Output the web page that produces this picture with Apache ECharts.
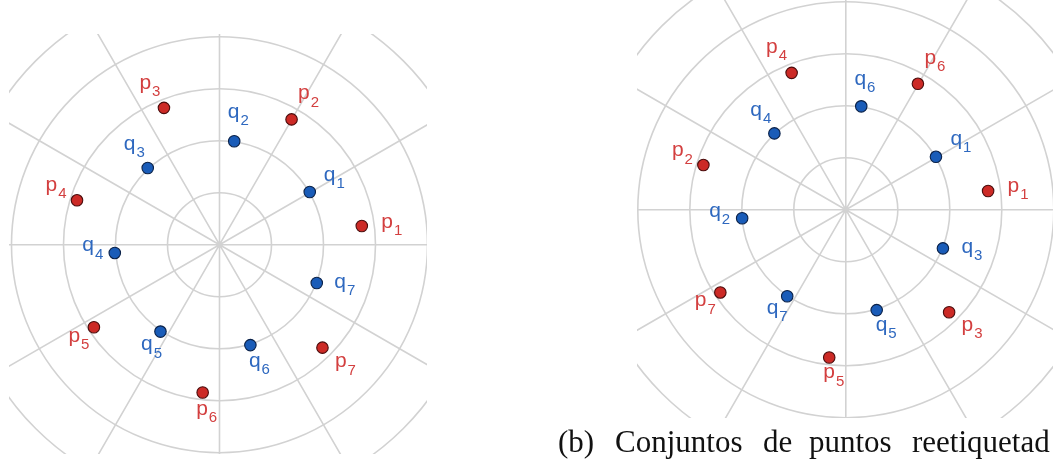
<!DOCTYPE html>
<html>
<head>
<meta charset="utf-8">
<script src="https://cdn.jsdelivr.net/npm/echarts@6/dist/echarts.min.js"></script>
<style>
  html, body { margin: 0; padding: 0; background: #ffffff; }
  #chart { width: 1053px; height: 463px; }
</style>
</head>
<body>
<div id="chart"></div>
<script>
// ---- Data: [radius (ring units), angle (degrees, counter-clockwise from east)] ----
// Panel (a): original labelling
const leftPNames = ['p1', 'p2', 'p3', 'p4', 'p5', 'p6', 'p7'];
const leftP = [[2.76, 7.5], [2.78, 60.1], [2.84, 112.1], [2.87, 162.7], [2.89, 213.3], [2.86, 263.5], [2.80, 315.0]];
const leftQNames = ['q1', 'q2', 'q3', 'q4', 'q5', 'q6', 'q7'];
const leftQ = [[2.01, 30.3], [2.01, 81.9], [2.02, 133.1], [2.02, 184.5], [2.02, 235.8], [2.02, 287.1], [2.01, 338.5]];

// Panel (b): relabelled point sets
const rightPNames = ['p1', 'p2', 'p3', 'p4', 'p5', 'p6', 'p7'];
const rightP = [[2.76, 7.5], [2.87, 162.6], [2.80, 315.2], [2.83, 111.6], [2.86, 263.6], [2.79, 60.2], [2.89, 213.4]];
const rightQNames = ['q1', 'q2', 'q3', 'q4', 'q5', 'q6', 'q7'];
const rightQ = [[2.01, 30.4], [2.00, 184.7], [2.01, 338.3], [2.01, 133.1], [2.02, 287.1], [2.01, 81.5], [2.01, 235.9]];

const captionWords = ['(b)', 'Conjuntos', 'de', 'puntos', 'reetiquetad'];

// ---- Layout (kept apart from the data) ----
const leftPOffsets = [[30, -4], [17, -26], [-14, -25], [-21, -15], [-15, 9], [4, 16.5], [23, 14]];
const leftQOffsets = [[24.5, -17], [4, -29], [-13.5, -24], [-22, -7.5], [-9, 13], [9, 15.7], [28, -1]];
const rightPOffsets = [[30, -5], [-21, -14.5], [23, 13], [-15, -26], [4.5, 15], [17, -26], [-15, 8]];
const rightQOffsets = [[25, -18], [-22.5, -7], [29, -1], [-13.5, -23.5], [9.5, 14.7], [3.7, -27.5], [-10, 11.7]];
const captionX = [558, 615, 763, 809, 912];

const RED = '#cc2a26', RED_BORDER = '#4a0c0c', RED_TEXT = '#d33f3f';
const BLUE = '#1a5cb8', BLUE_BORDER = '#0a2148', BLUE_TEXT = '#2e68bf';
const GRID = '#d2d2d2';

function items(values, names, offsets) {
  return values.map((v, i) => ({ name: names[i], value: v, label: { offset: offsets[i] } }));
}

function labelCfg(color) {
  return {
    show: true,
    position: 'inside',
    formatter: (p) => '{m|' + p.name.charAt(0) + '}{s|' + p.name.slice(1) + '}',
    rich: {
      m: { fontSize: 21, lineHeight: 22, color: color, fontFamily: 'Liberation Sans' },
      s: { fontSize: 15, lineHeight: 22, color: color, fontFamily: 'Liberation Sans', padding: [18, 0, 0, 1] }
    }
  };
}

function scatter(polarIndex, values, names, offsets, fill, border, textColor) {
  return {
    type: 'scatter',
    coordinateSystem: 'polar',
    polarIndex: polarIndex,
    symbol: 'circle',
    symbolSize: 11.5,
    itemStyle: { color: fill, borderColor: border, borderWidth: 1.1, opacity: 1 },
    label: labelCfg(textColor),
    emphasis: { disabled: true },
    data: items(values, names, offsets),
    z: 5
  };
}

function angleAxis(i) {
  return {
    polarIndex: i, type: 'value', min: 0, max: 360, interval: 30,
    startAngle: 0, clockwise: false,
    axisLine: { show: false }, axisTick: { show: false }, axisLabel: { show: false },
    splitLine: { show: true, lineStyle: { color: GRID, width: 1.6 } },
    splitArea: { show: false }
  };
}
function radiusAxis(i) {
  return {
    polarIndex: i, type: 'value', min: 0, max: 6, interval: 1,
    axisLine: { show: false }, axisTick: { show: false }, axisLabel: { show: false },
    splitLine: { show: true, lineStyle: { color: GRID, width: 1.6 } },
    splitArea: { show: false }
  };
}

const masks = [
  [0, 0, 9, 463],
  [0, 0, 427, 34],
  [0, 454, 427, 9],
  [427, 0, 210, 463],
  [637, 418, 416, 45]
].map((r) => ({
  type: 'rect', z: 100, silent: true,
  shape: { x: r[0], y: r[1], width: r[2], height: r[3] },
  style: { fill: '#ffffff' }
}));

const caption = captionWords.map((w, i) => ({
  type: 'text', z: 101, silent: true,
  x: captionX[i], y: 444,
  style: {
    text: w, fill: '#111111',
    font: '31px "Liberation Serif"',
    textAlign: 'left', textVerticalAlign: 'middle'
  }
}));

const chart = echarts.init(document.getElementById('chart'), null, { renderer: 'canvas' });
chart.setOption({
  animation: false,
  backgroundColor: '#ffffff',
  polar: [
    { center: [219.5, 244.7], radius: 312 },
    { center: [845.8, 209.7], radius: 312 }
  ],
  angleAxis: [angleAxis(0), angleAxis(1)],
  radiusAxis: [radiusAxis(0), radiusAxis(1)],
  series: [
    scatter(0, leftP, leftPNames, leftPOffsets, RED, RED_BORDER, RED_TEXT),
    scatter(0, leftQ, leftQNames, leftQOffsets, BLUE, BLUE_BORDER, BLUE_TEXT),
    scatter(1, rightP, rightPNames, rightPOffsets, RED, RED_BORDER, RED_TEXT),
    scatter(1, rightQ, rightQNames, rightQOffsets, BLUE, BLUE_BORDER, BLUE_TEXT)
  ],
  graphic: masks.concat(caption)
});
</script>
</body>
</html>
